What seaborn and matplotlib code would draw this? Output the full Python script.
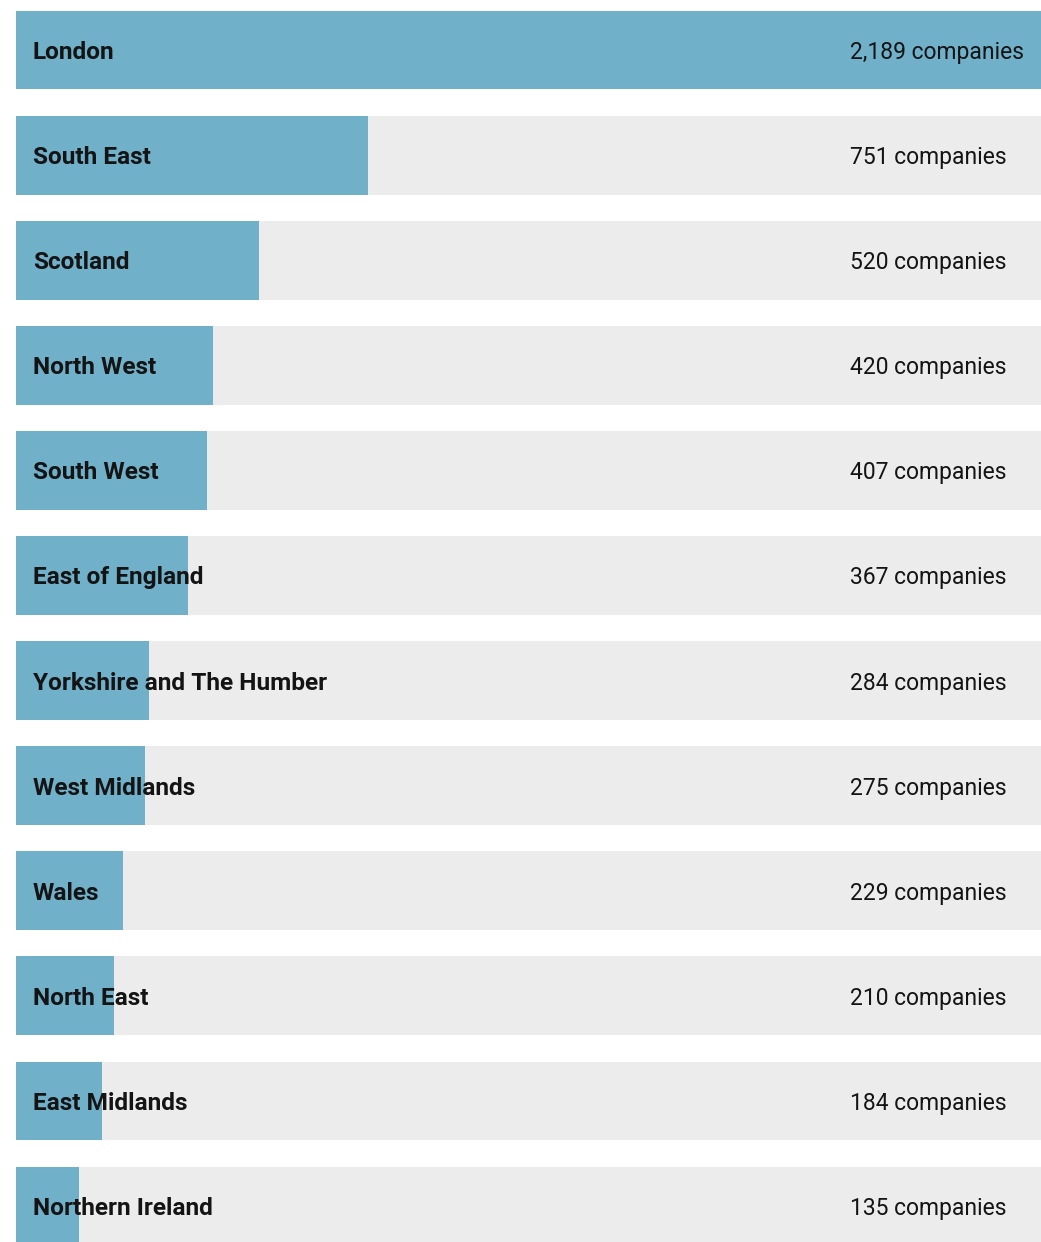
import matplotlib
matplotlib.use("Agg")
import matplotlib.pyplot as plt
import seaborn as sns
import pandas as pd

regions = [
    "London", "South East", "Scotland", "North West", "South West",
    "East of England", "Yorkshire and The Humber", "West Midlands",
    "Wales", "North East", "East Midlands", "Northern Ireland",
]
companies = [2189, 751, 520, 420, 407, 367, 284, 275, 229, 210, 184, 135]

BLUE = "#70b0c9"
GREY = "#ececec"
INK = "#141414"

sns.set_theme(style="white")
plt.rcParams["font.family"] = ["Roboto", "DejaVu Sans"]

df = pd.DataFrame({"region": regions, "companies": companies})
df["track"] = max(companies)

W, H = 1041, 1242
fig = plt.figure(figsize=(W / 100, H / 100), dpi=100)
ax = fig.add_axes([16 / W, 0, 1 - 16 / W, 1])

sns.barplot(data=df, y="region", x="track", color=GREY, width=0.75,
            saturation=1, linewidth=0, ax=ax, orient="h")
sns.barplot(data=df, y="region", x="companies", color=BLUE, width=0.75,
            saturation=1, linewidth=0, ax=ax, orient="h")

pitch = 105.1
ax.set_ylim((H - 50.0) / pitch, -50.0 / pitch)
ax.set_xlim(0, max(companies))
ax.axis("off")

x_per_px = max(companies) / 1025
for i, (name, n) in enumerate(zip(regions, companies)):
    ax.text(17 * x_per_px, i, name, ha="left", va="center_baseline",
            fontsize=17.6, fontweight="bold", color=INK)
    ax.text(834 * x_per_px, i, f"{n:,} companies", ha="left",
            va="center_baseline", fontsize=16.5, color=INK)

fig.savefig("out.png", dpi=100)
